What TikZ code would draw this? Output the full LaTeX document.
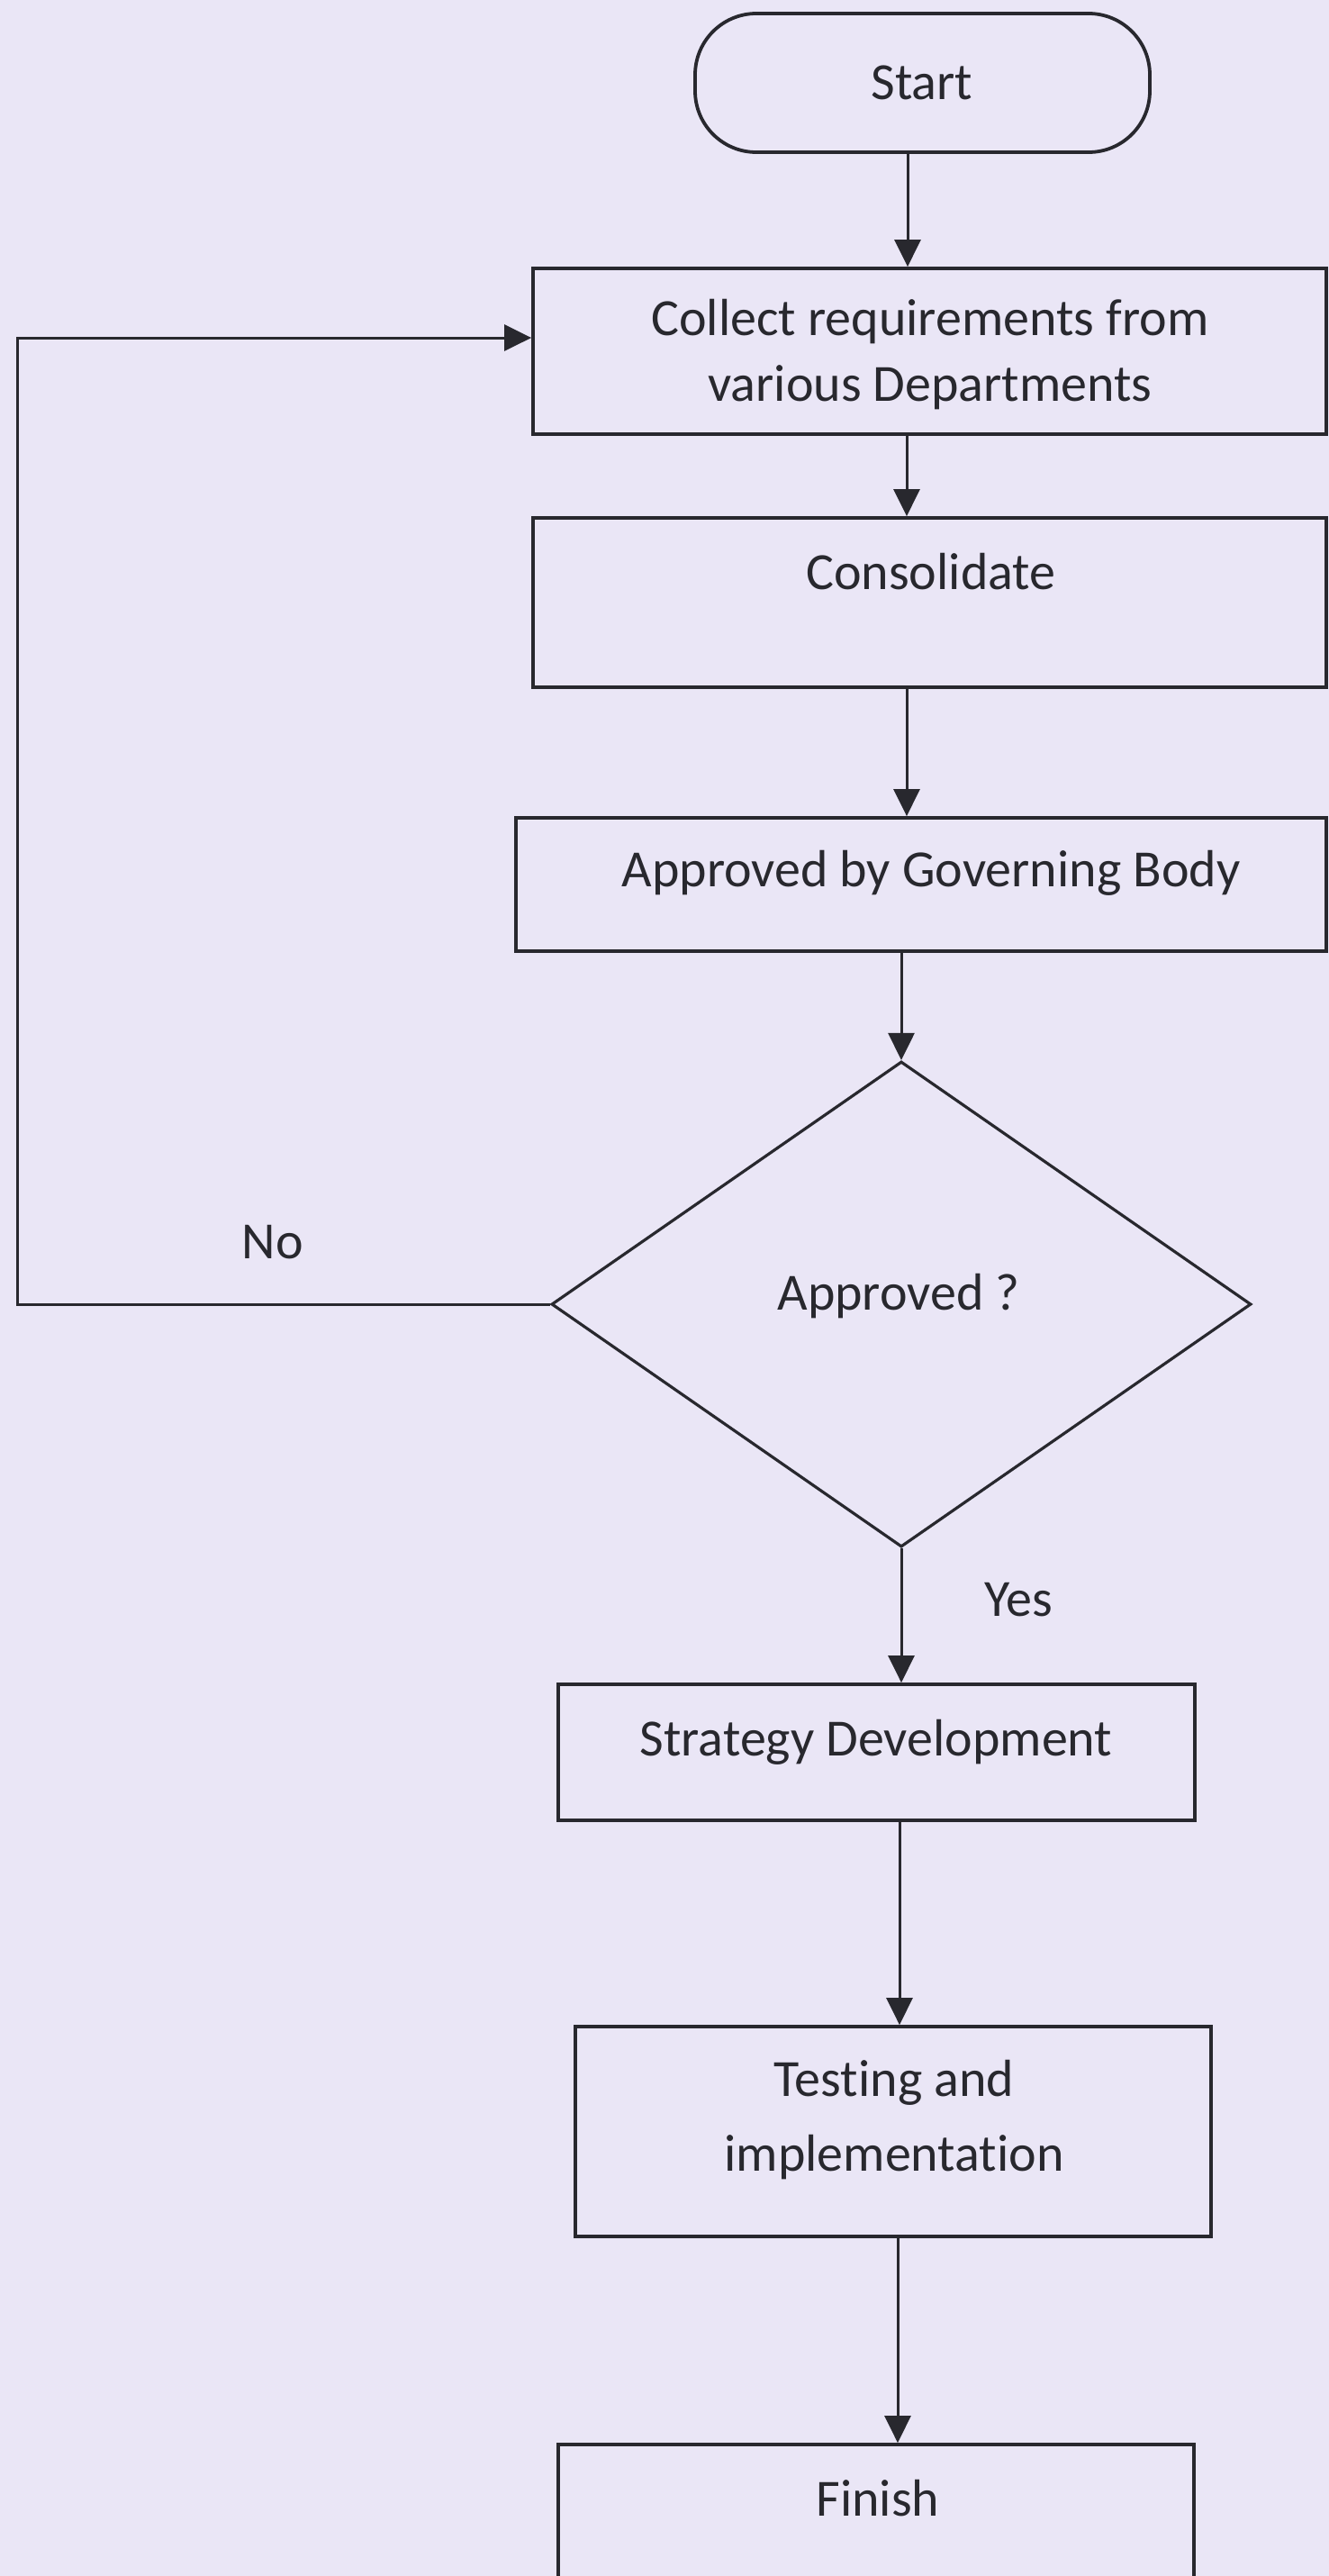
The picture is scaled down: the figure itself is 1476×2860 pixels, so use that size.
\documentclass[tikz,border=0pt]{standalone}
\usepackage{fontspec}
\setmainfont{Carlito}[Ligatures=NoCommon]
\usetikzlibrary{arrows.meta,shapes.geometric}
\definecolor{bg}{RGB}{234,230,246}
\definecolor{ink}{RGB}{40,40,46}
\begin{document}
\begin{tikzpicture}[x=0.5pt,y=-0.5pt,
  box/.style={draw=ink,line width=1.9pt,inner sep=0pt,fill=none},
  txt/.style={text=ink,inner sep=0pt,anchor=base,font=\fontsize{29}{34}\selectfont},
  arr/.style={draw=ink,line width=1.5pt,-{Triangle[length=15pt,width=14.5pt]}}]
\fill[bg] (0,0) rectangle (1476,2860);
\useasboundingbox (0,0) rectangle (1476,2860);
% boxes
\node[box,rounded corners=34pt,minimum width=252.5pt,minimum height=77pt] (start) at (1024.5,92) {};
\node[box,minimum width=440.5pt,minimum height=92pt] (collect) at (1032.5,390) {};
\node[box,minimum width=440.5pt,minimum height=94pt] (consol) at (1032.5,669) {};
\node[box,minimum width=450pt,minimum height=74pt] (gov) at (1023,982) {};
\node[box,shape=diamond,line width=1.6pt,minimum width=388.5pt,minimum height=269.5pt] (dec) at (1001,1448) {};
\node[box,minimum width=353.5pt,minimum height=75.5pt] (strat) at (973.5,1945.5) {};
\node[box,minimum width=353pt,minimum height=116.5pt] (test) at (992,2366.5) {};
\node[box,minimum width=353pt,minimum height=76pt] (finish) at (973,2790) {};
% texts
\node[txt] (tstart) at (1024,110) {Start};
\node[txt] (tcol1) at (1033,372) {Collect requirements from};
\node[txt] (tcol2) at (1033,445) {various Departments};
\node[txt] (tcons) at (1034,654) {Consolidate};
\node[txt] (tgov) at (1034,984) {Approved by Governing Body};
\node[txt] (tdec) at (998,1454) {Approved ?};
\node[txt] (tno) at (303,1397) {No};
\node[txt] (tyes) at (1131,1794) {Yes};
\node[txt] (tstrat) at (973,1949) {Strategy Development};
\node[txt] (ttest1) at (993,2327) {Testing and};
\node[txt] (ttest2) at (993,2410) {implementation};
\node[txt] (tfin) at (975,2793) {Finish};
% connector columns
\coordinate (c1) at (1008,0);
\coordinate (c2) at (1007,0);
\coordinate (c5) at (999,0);
\coordinate (c6) at (997,0);
\coordinate (fb) at (19,375);
% connectors
\draw[arr] (start.south -| c1) -- (collect.north -| c1);
\draw[arr] (collect.south -| c2) -- (consol.north -| c2);
\draw[arr] (consol.south -| c2) -- (gov.north -| c2);
\draw[arr] (dec.north |- gov.south) -- (dec.north);
\draw[arr] (dec.south) -- (dec.south |- strat.north);
\draw[arr] (strat.south -| c5) -- (test.north -| c5);
\draw[arr] (test.south -| c6) -- (finish.north -| c6);
\draw[arr] (dec.west) -| (fb) -- (collect.west |- fb);
\end{tikzpicture}
\end{document}
